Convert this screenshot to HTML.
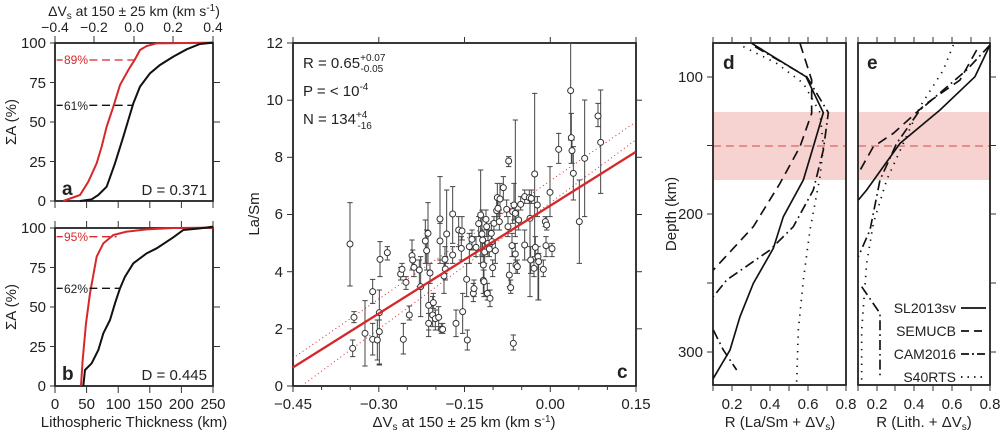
<!DOCTYPE html>
<html><head><meta charset="utf-8"><style>
body{margin:0;background:#fff}
svg{display:block;font-family:"Liberation Sans",sans-serif}
</style></head><body>
<svg width="1000" height="432" viewBox="0 0 1000 432" xmlns="http://www.w3.org/2000/svg">
<g font-size="14" fill="#222">
<!-- ===== Panel a / b ===== -->
<text x="134" y="16" text-anchor="middle">ΔV<tspan font-size="10" dy="3">s</tspan><tspan dy="-3"> at 150 ± 25 km (km s</tspan><tspan font-size="10" dy="-5">-1</tspan><tspan dy="5">)</tspan></text>
<g text-anchor="middle">
<text x="55" y="32">−0.4</text><text x="94" y="32">−0.2</text><text x="134" y="32">0.0</text><text x="173" y="32">0.2</text><text x="213" y="32">0.4</text>
</g>
<g stroke="#333" stroke-width="1">
<line x1="55" y1="36" x2="55" y2="43"/><line x1="94" y1="36" x2="94" y2="43"/><line x1="134" y1="36" x2="134" y2="43"/><line x1="173" y1="36" x2="173" y2="43"/><line x1="213" y1="36" x2="213" y2="43"/>
</g>
<rect x="55" y="43" width="158" height="158" fill="none" stroke="#222" stroke-width="1.8"/>
<rect x="55" y="228" width="158" height="158" fill="none" stroke="#222" stroke-width="1.8"/>
<g stroke="#333" stroke-width="1">
<line x1="50" y1="43" x2="55" y2="43"/><line x1="50" y1="82.5" x2="55" y2="82.5"/><line x1="50" y1="122" x2="55" y2="122"/><line x1="50" y1="161.5" x2="55" y2="161.5"/><line x1="50" y1="201" x2="55" y2="201"/>
<line x1="213" y1="82.5" x2="220" y2="82.5"/><line x1="213" y1="122" x2="220" y2="122"/><line x1="213" y1="161.5" x2="220" y2="161.5"/>
<line x1="50" y1="228" x2="55" y2="228"/><line x1="50" y1="267.5" x2="55" y2="267.5"/><line x1="50" y1="307" x2="55" y2="307"/><line x1="50" y1="346.5" x2="55" y2="346.5"/><line x1="50" y1="386" x2="55" y2="386"/>
<line x1="213" y1="267.5" x2="220" y2="267.5"/><line x1="213" y1="307" x2="220" y2="307"/><line x1="213" y1="346.5" x2="220" y2="346.5"/>
<line x1="55" y1="201" x2="55" y2="208"/><line x1="86.6" y1="201" x2="86.6" y2="208"/><line x1="118.2" y1="201" x2="118.2" y2="208"/><line x1="149.8" y1="201" x2="149.8" y2="208"/><line x1="181.4" y1="201" x2="181.4" y2="208"/><line x1="213" y1="201" x2="213" y2="208"/>
<line x1="55" y1="221" x2="55" y2="228"/><line x1="86.6" y1="221" x2="86.6" y2="228"/><line x1="118.2" y1="221" x2="118.2" y2="228"/><line x1="149.8" y1="221" x2="149.8" y2="228"/><line x1="181.4" y1="221" x2="181.4" y2="228"/><line x1="213" y1="221" x2="213" y2="228"/>
<line x1="55" y1="386" x2="55" y2="393"/><line x1="86.6" y1="386" x2="86.6" y2="393"/><line x1="118.2" y1="386" x2="118.2" y2="393"/><line x1="149.8" y1="386" x2="149.8" y2="393"/><line x1="181.4" y1="386" x2="181.4" y2="393"/><line x1="213" y1="386" x2="213" y2="393"/>
</g>
<g text-anchor="end" font-size="15">
<text x="46" y="48">100</text><text x="46" y="88">75</text><text x="46" y="127">50</text><text x="46" y="167">25</text><text x="46" y="206">0</text>
<text x="46" y="233">100</text><text x="46" y="273">75</text><text x="46" y="312">50</text><text x="46" y="352">25</text><text x="46" y="391">0</text>
</g>
<g text-anchor="middle" font-size="15">
<text x="55" y="409">0</text><text x="86.6" y="409">50</text><text x="118.2" y="409">100</text><text x="149.8" y="409">150</text><text x="181.4" y="409">200</text><text x="213" y="409">250</text>
<text x="134" y="427">Lithospheric Thickness (km)</text>
<text transform="translate(16,122) rotate(-90)">ΣA (%)</text>
<text transform="translate(16,307) rotate(-90)">ΣA (%)</text>
</g>
<text x="62" y="195" font-size="19" font-weight="bold">a</text>
<text x="62" y="380" font-size="19" font-weight="bold">b</text>
<text x="207" y="195" text-anchor="end" font-size="15">D = 0.371</text>
<text x="207" y="380" text-anchor="end" font-size="15">D = 0.445</text>
<g transform="scale(0.33333)" fill="none" stroke-width="6">
<polyline stroke="#d6282b" points="190,603 240,585 265,545 290,490 305,440 320,380 340,320 360,255 385,210 405,178 420,150 440,138 470,130 640,128"/>
<polyline stroke="#111" points="240,603 275,598 295,585 320,560 345,490 370,410 385,360 400,310 420,260 450,220 480,195 520,170 560,148 600,132 640,128"/>
<polyline stroke="#d6282b" points="243,1157 248,1080 258,970 270,880 290,770 310,730 340,705 380,695 440,688 520,684 640,683"/>
<polyline stroke="#111" points="250,1157 255,1110 275,1090 295,1050 310,1000 330,960 345,910 360,865 375,830 400,790 440,760 470,745 520,712 550,690 600,685 640,680"/>
<g stroke-width="4" stroke-dasharray="24,14">
<line stroke="#d6282b" x1="268" y1="180" x2="405" y2="180"/>
<line stroke="#111" x1="268" y1="316" x2="400" y2="316"/>
<line stroke="#d6282b" x1="268" y1="710" x2="350" y2="710"/>
<line stroke="#111" x1="268" y1="865" x2="360" y2="865"/>
</g>
<g stroke-width="4"><line stroke="#d6282b" x1="170" y1="180" x2="188" y2="180"/><line stroke="#111" x1="170" y1="316" x2="188" y2="316"/><line stroke="#d6282b" x1="170" y1="710" x2="188" y2="710"/><line stroke="#111" x1="170" y1="865" x2="188" y2="865"/></g>
</g>
<g font-size="12">
<text x="64" y="64" fill="#d6282b">89%</text><text x="64" y="110">61%</text>
<text x="64" y="241" fill="#d6282b">95%</text><text x="64" y="293">62%</text>
</g>

<!-- ===== Panel c ===== -->
<rect x="293" y="43" width="343" height="343" fill="none" stroke="#222" stroke-width="1.8"/>
<g stroke="#333" stroke-width="1">
<line x1="293" y1="43" x2="287" y2="43"/><line x1="293" y1="100.2" x2="287" y2="100.2"/><line x1="293" y1="157.3" x2="287" y2="157.3"/><line x1="293" y1="214.5" x2="287" y2="214.5"/><line x1="293" y1="271.7" x2="287" y2="271.7"/><line x1="293" y1="328.8" x2="287" y2="328.8"/><line x1="293" y1="386" x2="287" y2="386"/>
<line x1="636" y1="100.2" x2="642" y2="100.2"/><line x1="636" y1="157.3" x2="642" y2="157.3"/><line x1="636" y1="214.5" x2="642" y2="214.5"/><line x1="636" y1="271.7" x2="642" y2="271.7"/><line x1="636" y1="328.8" x2="642" y2="328.8"/>
<line x1="293" y1="386" x2="293" y2="392"/><line x1="378.8" y1="386" x2="378.8" y2="392"/><line x1="464.5" y1="386" x2="464.5" y2="392"/><line x1="550.3" y1="386" x2="550.3" y2="392"/><line x1="636" y1="386" x2="636" y2="392"/>
<line x1="321.6" y1="386" x2="321.6" y2="390"/><line x1="350.2" y1="386" x2="350.2" y2="390"/><line x1="407.3" y1="386" x2="407.3" y2="390"/><line x1="435.9" y1="386" x2="435.9" y2="390"/><line x1="493.1" y1="386" x2="493.1" y2="390"/><line x1="521.7" y1="386" x2="521.7" y2="390"/><line x1="578.8" y1="386" x2="578.8" y2="390"/><line x1="607.4" y1="386" x2="607.4" y2="390"/>
<line x1="293" y1="37" x2="293" y2="43"/><line x1="378.8" y1="37" x2="378.8" y2="43"/><line x1="464.5" y1="37" x2="464.5" y2="43"/><line x1="550.3" y1="37" x2="550.3" y2="43"/><line x1="636" y1="37" x2="636" y2="43"/>
</g>
<g text-anchor="end" font-size="15">
<text x="283" y="48">12</text><text x="283" y="105">10</text><text x="283" y="162">8</text><text x="283" y="219">6</text><text x="283" y="277">4</text><text x="283" y="334">2</text><text x="283" y="391">0</text>
</g>
<g text-anchor="middle" font-size="15">
<text x="293" y="409">−0.45</text><text x="378.8" y="409">−0.30</text><text x="464.5" y="409">−0.15</text><text x="550.3" y="409">0.00</text><text x="636" y="409">0.15</text>
<text x="464" y="427">ΔV<tspan font-size="10" dy="3">s</tspan><tspan dy="-3"> at 150 ± 25 km (km s</tspan><tspan font-size="10" dy="-5">-1</tspan><tspan dy="5">)</tspan></text>
<text transform="translate(259,214) rotate(-90)">La/Sm</text>
</g>
<text x="303" y="68" font-size="15">R = 0.65<tspan font-size="10" dy="-7">+0.07</tspan><tspan font-size="10" dx="-25" dy="11">-0.05</tspan></text>
<text x="303" y="96" font-size="15">P = &lt; 10<tspan font-size="10" dy="-6">-4</tspan></text>
<text x="303" y="124" font-size="15">N = 134<tspan font-size="10" dy="-6">+4</tspan><tspan font-size="10" dx="-10" dy="11">-16</tspan></text>
<text x="617" y="378" font-size="19" font-weight="bold">c</text>
<g transform="translate(270,30) scale(0.33333)">
<line x1="68" y1="985" x2="1097" y2="276" stroke="#d6282b" stroke-width="3" stroke-dasharray="3,9"/>
<line x1="105" y1="1060" x2="1097" y2="330" stroke="#d6282b" stroke-width="3" stroke-dasharray="3,9"/>
<path stroke="#444" stroke-width="3" fill="none" d="M240 518V768M232 518h16M232 768h16M252 845V878M244 845h16M244 878h16M248 930V980M240 930h16M240 980h16M285 812V1008M277 812h16M277 1008h16M308 748V820M300 748h16M300 820h16M308 880V975M300 880h16M300 975h16M322 870V990M314 870h16M314 990h16M328 780V1002M320 780h16M320 1002h16M328 870V1005M320 870h16M320 1005h16M330 635V740M322 635h16M322 740h16M352 650V690M344 650h16M344 690h16M392 712V750M384 712h16M384 750h16M396 700V740M388 700h16M388 740h16M400 880V972M392 880h16M392 972h16M408 740V778M400 740h16M400 778h16M418 828V870M410 828h16M410 870h16M426 630V720M418 630h16M418 720h16M428 660V715M420 660h16M420 715h16M432 690V740M424 690h16M424 740h16M448 690V770M440 690h16M440 770h16M452 680V860M444 680h16M444 860h16M466 570V700M458 570h16M458 700h16M470 600V720M462 600h16M462 720h16M474 518V700M466 518h16M466 700h16M476 760V900M468 760h16M468 900h16M476 850V920M468 850h16M468 920h16M480 700V760M472 700h16M472 760h16M488 800V890M480 800h16M480 890h16M490 790V835M482 790h16M482 835h16M496 840V900M488 840h16M488 900h16M506 830V890M498 830h16M498 890h16M510 440V700M502 440h16M502 700h16M510 580V690M502 580h16M502 690h16M514 880V910M506 880h16M506 910h16M518 880V910M510 880h16M510 910h16M522 700V790M514 700h16M514 790h16M525 650V730M517 650h16M517 730h16M526 680V750M518 680h16M518 750h16M530 480V700M522 480h16M522 700h16M548 650V700M540 650h16M540 700h16M548 470V640M540 470h16M540 640h16M558 840V920M550 840h16M550 920h16M566 560V650M558 560h16M558 650h16M576 560V630M568 560h16M568 630h16M574 620V690M566 620h16M566 690h16M578 790V910M570 790h16M570 910h16M590 700V800M582 700h16M582 800h16M592 900V960M584 900h16M584 960h16M598 610V700M590 610h16M590 700h16M606 600V660M598 600h16M598 660h16M610 760V815M602 760h16M602 815h16M612 750V800M604 750h16M604 800h16M618 620V680M610 620h16M610 680h16M626 560V620M618 560h16M618 620h16M632 420V700M624 420h16M624 700h16M636 540V680M628 540h16M628 680h16M638 600V660M630 600h16M630 660h16M640 660V760M632 660h16M632 760h16M640 720V790M632 720h16M632 790h16M642 720V800M634 720h16M634 800h16M644 640V700M636 640h16M636 700h16M648 540V590M640 540h16M640 590h16M650 570V620M642 570h16M642 620h16M652 760V810M644 760h16M644 810h16M654 600V680M646 600h16M646 680h16M658 640V680M650 640h16M650 680h16M660 780V830M652 780h16M652 830h16M664 580V640M656 580h16M656 640h16M666 610V660M658 610h16M658 660h16M668 690V740M660 690h16M660 740h16M672 560V600M664 560h16M664 600h16M676 630V700M668 630h16M668 700h16M680 500V580M672 500h16M672 580h16M682 460V540M674 460h16M674 540h16M684 500V560M676 500h16M676 560h16M688 540V600M680 540h16M680 600h16M690 460V550M682 460h16M682 550h16M700 440V510M692 440h16M692 510h16M710 510V560M702 510h16M702 560h16M714 560V620M706 560h16M706 620h16M716 380V410M708 380h16M708 410h16M718 700V770M710 700h16M710 770h16M722 750V790M714 750h16M714 790h16M726 610V680M718 610h16M718 680h16M728 520V580M720 520h16M720 580h16M730 915V960M722 915h16M722 960h16M732 460V570M724 460h16M724 570h16M736 270V620M728 270h16M728 620h16M736 640V700M728 640h16M728 700h16M738 690V730M730 690h16M730 730h16M742 690V730M734 690h16M734 730h16M746 540V600M738 540h16M738 600h16M752 500V540M744 500h16M744 540h16M764 480V520M756 480h16M756 520h16M764 600V690M756 600h16M756 690h16M778 480V520M770 480h16M770 520h16M780 500V800M772 500h16M772 800h16M782 650V730M774 650h16M774 730h16M784 480V520M776 480h16M776 520h16M792 690V740M784 690h16M784 740h16M794 190V680M786 190h16M786 680h16M796 620V690M788 620h16M788 690h16M802 500V560M794 500h16M794 560h16M804 650V810M796 650h16M796 810h16M806 670V810M798 670h16M798 810h16M820 690V740M812 690h16M812 740h16M826 560V590M818 560h16M818 590h16M828 620V680M820 620h16M820 680h16M830 560V600M822 560h16M822 600h16M840 410V560M832 410h16M832 560h16M846 640V680M838 640h16M838 680h16M866 310V400M858 310h16M858 400h16M902 40V330M894 40h16M894 330h16M904 250V400M896 250h16M896 400h16M906 330V400M898 330h16M898 400h16M910 350V510M902 350h16M902 510h16M928 450V700M920 450h16M920 700h16M944 210V560M936 210h16M936 560h16M984 220V290M976 220h16M976 290h16M992 180V490M984 180h16M984 490h16"/>
<g stroke="#333" stroke-width="3" fill="#fff">
<circle cx="240" cy="642" r="9"/><circle cx="252" cy="862" r="9"/><circle cx="248" cy="955" r="9"/><circle cx="285" cy="910" r="9"/><circle cx="308" cy="785" r="9"/><circle cx="308" cy="928" r="9"/><circle cx="322" cy="930" r="9"/><circle cx="328" cy="848" r="9"/><circle cx="328" cy="905" r="9"/><circle cx="330" cy="688" r="9"/><circle cx="352" cy="668" r="9"/><circle cx="392" cy="732" r="9"/><circle cx="396" cy="718" r="9"/><circle cx="400" cy="928" r="9"/><circle cx="408" cy="757" r="9"/><circle cx="418" cy="855" r="9"/><circle cx="426" cy="677" r="9"/><circle cx="428" cy="690" r="9"/><circle cx="432" cy="712" r="9"/><circle cx="448" cy="720" r="9"/><circle cx="452" cy="770" r="9"/><circle cx="466" cy="633" r="9"/><circle cx="470" cy="662" r="9"/><circle cx="474" cy="610" r="9"/><circle cx="476" cy="826" r="9"/><circle cx="476" cy="880" r="9"/><circle cx="480" cy="729" r="9"/><circle cx="488" cy="855" r="9"/><circle cx="490" cy="818" r="9"/><circle cx="496" cy="866" r="9"/><circle cx="506" cy="862" r="9"/><circle cx="510" cy="567" r="9"/><circle cx="510" cy="633" r="9"/><circle cx="514" cy="898" r="9"/><circle cx="518" cy="898" r="9"/><circle cx="522" cy="738" r="9"/><circle cx="525" cy="688" r="9"/><circle cx="526" cy="717" r="9"/><circle cx="530" cy="612" r="9"/><circle cx="548" cy="675" r="9"/><circle cx="548" cy="552" r="9"/><circle cx="558" cy="880" r="9"/><circle cx="566" cy="600" r="9"/><circle cx="576" cy="603" r="9"/><circle cx="574" cy="655" r="9"/><circle cx="578" cy="845" r="9"/><circle cx="590" cy="748" r="9"/><circle cx="592" cy="930" r="9"/><circle cx="598" cy="650" r="9"/><circle cx="606" cy="628" r="9"/><circle cx="610" cy="790" r="9"/><circle cx="612" cy="776" r="9"/><circle cx="618" cy="652" r="9"/><circle cx="626" cy="581" r="9"/><circle cx="632" cy="555" r="9"/><circle cx="636" cy="612" r="9"/><circle cx="638" cy="630" r="9"/><circle cx="640" cy="705" r="9"/><circle cx="640" cy="751" r="9"/><circle cx="642" cy="755" r="9"/><circle cx="644" cy="666" r="9"/><circle cx="648" cy="568" r="9"/><circle cx="650" cy="590" r="9"/><circle cx="652" cy="790" r="9"/><circle cx="654" cy="640" r="9"/><circle cx="658" cy="657" r="9"/><circle cx="660" cy="805" r="9"/><circle cx="664" cy="610" r="9"/><circle cx="666" cy="635" r="9"/><circle cx="668" cy="713" r="9"/><circle cx="672" cy="580" r="9"/><circle cx="676" cy="662" r="9"/><circle cx="680" cy="542" r="9"/><circle cx="682" cy="503" r="9"/><circle cx="684" cy="535" r="9"/><circle cx="688" cy="575" r="9"/><circle cx="690" cy="507" r="9"/><circle cx="700" cy="473" r="9"/><circle cx="710" cy="538" r="9"/><circle cx="714" cy="590" r="9"/><circle cx="716" cy="393" r="9"/><circle cx="718" cy="735" r="9"/><circle cx="722" cy="773" r="9"/><circle cx="726" cy="647" r="9"/><circle cx="728" cy="545" r="9"/><circle cx="730" cy="940" r="9"/><circle cx="732" cy="525" r="9"/><circle cx="736" cy="550" r="9"/><circle cx="736" cy="672" r="9"/><circle cx="738" cy="705" r="9"/><circle cx="742" cy="710" r="9"/><circle cx="746" cy="570" r="9"/><circle cx="752" cy="523" r="9"/><circle cx="764" cy="500" r="9"/><circle cx="764" cy="645" r="9"/><circle cx="778" cy="503" r="9"/><circle cx="780" cy="565" r="9"/><circle cx="782" cy="690" r="9"/><circle cx="784" cy="505" r="9"/><circle cx="792" cy="715" r="9"/><circle cx="794" cy="432" r="9"/><circle cx="796" cy="652" r="9"/><circle cx="802" cy="525" r="9"/><circle cx="804" cy="680" r="9"/><circle cx="806" cy="695" r="9"/><circle cx="820" cy="718" r="9"/><circle cx="826" cy="575" r="9"/><circle cx="828" cy="647" r="9"/><circle cx="830" cy="585" r="9"/><circle cx="840" cy="487" r="9"/><circle cx="846" cy="656" r="9"/><circle cx="866" cy="358" r="9"/><circle cx="902" cy="182" r="9"/><circle cx="904" cy="323" r="9"/><circle cx="906" cy="362" r="9"/><circle cx="910" cy="430" r="9"/><circle cx="928" cy="575" r="9"/><circle cx="944" cy="385" r="9"/><circle cx="984" cy="258" r="9"/><circle cx="992" cy="337" r="9"/>
</g>
<line x1="68" y1="1013" x2="1097" y2="366" stroke="#d6282b" stroke-width="7"/>
</g>

<!-- ===== Panels d / e ===== -->
<rect x="713" y="112" width="133" height="68" fill="#f6d2d0"/>
<rect x="858" y="112" width="132" height="68" fill="#f6d2d0"/>
<line x1="713" y1="146" x2="846" y2="146" stroke="#d66" stroke-width="1.2" stroke-dasharray="8,5"/>
<line x1="858" y1="146" x2="990" y2="146" stroke="#d66" stroke-width="1.2" stroke-dasharray="8,5"/>
<rect x="713" y="43" width="133" height="342" fill="none" stroke="#222" stroke-width="1.8"/>
<rect x="858" y="43" width="132" height="342" fill="none" stroke="#222" stroke-width="1.8"/>
<g stroke="#333" stroke-width="1">
<line x1="707" y1="77" x2="713" y2="77"/><line x1="707" y1="145.5" x2="713" y2="145.5"/><line x1="707" y1="214" x2="713" y2="214"/><line x1="707" y1="283" x2="713" y2="283"/><line x1="707" y1="352" x2="713" y2="352"/>
<line x1="990" y1="77" x2="996" y2="77"/><line x1="990" y1="145.5" x2="996" y2="145.5"/><line x1="990" y1="214" x2="996" y2="214"/><line x1="990" y1="283" x2="996" y2="283"/><line x1="990" y1="352" x2="996" y2="352"/>
<path fill="none" d="M713 385v6M732 385v6M751 385v6M770 385v6M789 385v6M808 385v6M827 385v6M846 385v6M713 37v6M732 37v6M751 37v6M770 37v6M789 37v6M808 37v6M827 37v6M846 37v6M858 385v6M877 385v6M895 385v6M914 385v6M933 385v6M952 385v6M971 385v6M990 385v6M858 37v6M877 37v6M895 37v6M914 37v6M933 37v6M952 37v6M971 37v6M990 37v6"/>
</g>
<g text-anchor="end" font-size="15">
<text x="703" y="82">100</text><text x="703" y="219">200</text><text x="703" y="357">300</text>
</g>
<text transform="translate(676,214) rotate(-90)" text-anchor="middle" font-size="15">Depth (km)</text>
<g text-anchor="middle" font-size="15">
<text x="732" y="409">0.2</text><text x="770" y="409">0.4</text><text x="808" y="409">0.6</text><text x="846" y="409">0.8</text>
<text x="877" y="409">0.2</text><text x="914" y="409">0.4</text><text x="952" y="409">0.6</text><text x="990" y="409">0.8</text>
<text x="780" y="427">R (La/Sm + ΔV<tspan font-size="10" dy="3">s</tspan><tspan dy="-3">)</tspan></text>
<text x="924" y="427">R (Lith. + ΔV<tspan font-size="10" dy="3">s</tspan><tspan dy="-3">)</tspan></text>
</g>
<text x="723" y="69" font-size="19" font-weight="bold">d</text>
<text x="867" y="69" font-size="19" font-weight="bold">e</text>
<g transform="translate(680,30) scale(0.33333)" fill="none" stroke="#111" stroke-width="5">
<polyline points="215,40 378,140 430,248 400,350 370,450 310,560 280,655 220,760 180,860 150,960 100,1045"/>
<polyline stroke-dasharray="30,18" points="360,40 395,150 395,250 360,350 300,460 220,590 100,720"/>
<polyline stroke-dasharray="30,12,5,12" points="225,50 380,140 445,248 430,360 400,480 340,590 270,660 140,750 100,800"/>
<polyline stroke-dasharray="30,12,5,12" points="100,900 130,960 170,1020"/>
<polyline stroke-dasharray="4,18" points="190,50 290,100 370,160 420,248 430,350 420,440 390,600 370,750 355,900 350,1055"/>
<polyline points="930,45 885,140 780,240 660,340 560,480 535,510"/>
<polyline stroke-dasharray="30,18" points="890,60 840,150 740,220 640,310 580,350 535,430"/>
<polyline stroke-dasharray="30,12,5,12" points="930,45 860,120 720,240 650,340 600,450 570,600 535,680"/>
<polyline stroke-dasharray="30,12,5,12" points="545,770 600,850 600,1040"/>
<polyline stroke-dasharray="4,18" points="820,45 790,120 720,230 670,340 620,450 580,580 560,700 545,900 545,1055"/>
</g>
<g text-anchor="end" font-size="14">
<text x="956" y="313">SL2013sv</text><text x="956" y="336">SEMUCB</text><text x="956" y="359">CAM2016</text><text x="956" y="382">S40RTS</text>
</g>
<g stroke="#111" stroke-width="1.7">
<line x1="961" y1="308" x2="986" y2="308"/>
<line x1="961" y1="331" x2="986" y2="331" stroke-dasharray="8,5"/>
<line x1="961" y1="354" x2="986" y2="354" stroke-dasharray="8,3,2,3"/>
<line x1="961" y1="377" x2="986" y2="377" stroke-dasharray="1.5,5"/>
</g>
</g>
</svg>
</body></html>
